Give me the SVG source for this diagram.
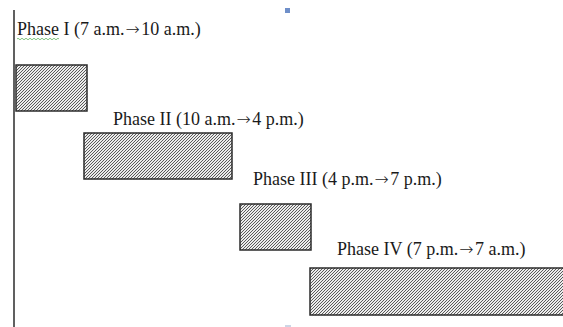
<svg xmlns="http://www.w3.org/2000/svg" width="563" height="327" viewBox="0 0 563 327">
<defs>
<pattern id="hatch" patternUnits="userSpaceOnUse" width="3" height="3">
<rect width="3" height="3" fill="#ececec"/>
<path d="M-1,1 L1,-1 M0,3 L3,0 M2,4 L4,2" stroke="#5a5a5a" stroke-width="1"/>
</pattern>
</defs>
<style>
.box{fill:url(#hatch);stroke:#2b2b2b;stroke-width:1.5}
.lbl{font-family:"Liberation Serif","Times New Roman",serif;font-size:18px;fill:#1a1a1a}
.arr{font-family:"DejaVu Sans",sans-serif;font-size:17px;font-weight:200}
</style>
<rect width="563" height="327" fill="#ffffff"/>
<g id="axis">
<line x1="14" y1="10" x2="14" y2="327" stroke="#2b2b2b" stroke-width="1.5"/>
</g>
<g id="marks">
<rect x="285" y="8" width="5" height="5" fill="#6f8fc9"/>
<line x1="285" y1="326" x2="291" y2="326" stroke="#9aaccc" stroke-width="1"/>
<path d="M17,39 q1,-1.5 2,0 t2,0 t2,0 t2,0 t2,0 t2,0 t2,0 t2,0 t2,0 t2,0 t2,0 t2,0 t2,0 t2,0 t2,0 t2,0 t2,0 t2,0 t2,0 t2,0 t2,0" fill="none" stroke="#5fb55f" stroke-width="0.8"/>
</g>
<g id="phase1">
<text class="lbl" x="17" y="35">Phase I (7 a.m.<tspan class="arr" dx="1">→</tspan><tspan dx="1.5">10 a.m.)</tspan></text>
<rect class="box" x="16" y="65" width="71" height="46"/>
</g>
<g id="phase2">
<text class="lbl" x="113" y="125">Phase II (10 a.m.<tspan class="arr" dx="1">→</tspan><tspan dx="1.5">4 p.m.)</tspan></text>
<rect class="box" x="84" y="133" width="148" height="46"/>
</g>
<g id="phase3">
<text class="lbl" x="253" y="185">Phase III (4 p.m.<tspan class="arr" dx="1">→</tspan><tspan dx="1.5">7 p.m.)</tspan></text>
<rect class="box" x="240" y="204" width="71" height="46"/>
</g>
<g id="phase4">
<text class="lbl" x="337" y="255">Phase IV (7 p.m.<tspan class="arr" dx="1">→</tspan><tspan dx="1.5">7 a.m.)</tspan></text>
<rect class="box" x="310" y="268" width="260" height="47"/>
</g>
<g id="connectors"></g>
</svg>
